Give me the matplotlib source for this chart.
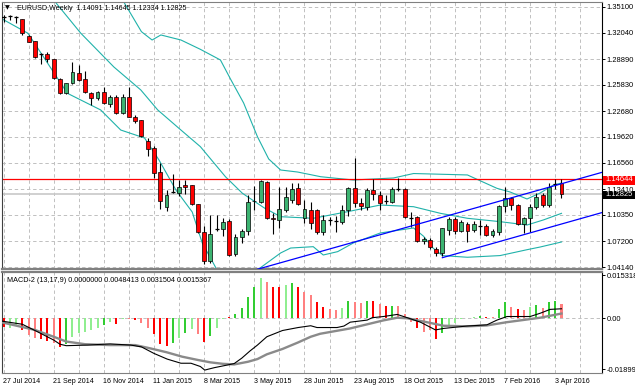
import matplotlib.pyplot as plt
from matplotlib.patches import Rectangle

plt.rcParams['font.family'] = ['Liberation Sans', 'DejaVu Sans']

# weekly EURUSD candles, 27 Jul 2014 .. 10 Apr 2016
opens = [1.3390, 1.3395, 1.3398, 1.3364, 1.3165, 1.3105, 1.2940, 1.2945, 1.2887, 1.2653,
         1.2490, 1.2602, 1.2728, 1.2653, 1.2482, 1.2427, 1.2498, 1.2360, 1.2442, 1.2252,
         1.2442, 1.2204, 1.2164, 1.1910, 1.1832, 1.1540, 1.1128, 1.1300, 1.1292, 1.1390,
         1.1387, 1.1164, 1.0825, 1.0485, 1.0868, 1.0870, 1.0962, 1.0570, 1.0771, 1.0840,
         1.1195, 1.1190, 1.1430, 1.0995, 1.0974, 1.1093, 1.1212, 1.1351, 1.0994, 1.1093,
         1.1093, 1.0831, 1.0964, 1.0968, 1.0954, 1.1093, 1.1351, 1.1173, 1.1132, 1.1331,
         1.1271, 1.1198, 1.1192, 1.1342, 1.1339, 1.0996, 1.1014, 1.0718, 1.0736, 1.0628,
         1.0577, 1.0855, 1.0982, 1.0847, 1.0927, 1.0855, 1.0900, 1.0902, 1.0800, 1.0835,
         1.1140, 1.1232, 1.1150, 1.0930, 1.0992, 1.1130, 1.1271, 1.1152, 1.1395, 1.14091]
highs = [1.3410, 1.3410, 1.3405, 1.3370, 1.3175, 1.3110, 1.2960, 1.2978, 1.2890, 1.2660,
         1.2610, 1.2859, 1.2819, 1.2751, 1.2494, 1.2510, 1.2554, 1.2460, 1.2460, 1.2474,
         1.2554, 1.2224, 1.2170, 1.1950, 1.1860, 1.1649, 1.1331, 1.1525, 1.1445, 1.1445,
         1.1395, 1.1170, 1.0902, 1.1033, 1.1033, 1.1003, 1.0990, 1.0803, 1.0862, 1.1270,
         1.1378, 1.1450, 1.1442, 1.1060, 1.1370, 1.1370, 1.1411, 1.1418, 1.1212, 1.1192,
         1.1100, 1.1033, 1.1013, 1.1021, 1.1152, 1.1370, 1.1708, 1.1232, 1.1351, 1.1458,
         1.1323, 1.1271, 1.1370, 1.1470, 1.1351, 1.1073, 1.1020, 1.0770, 1.0760, 1.0650,
         1.0880, 1.1013, 1.1013, 1.0974, 1.0954, 1.0960, 1.0974, 1.0930, 1.0870, 1.1152,
         1.1363, 1.1250, 1.1160, 1.1010, 1.1160, 1.1290, 1.1290, 1.1411, 1.1462, 1.14645]
lows = [1.3330, 1.3350, 1.3320, 1.3180, 1.3090, 1.2899, 1.2830, 1.2860, 1.2650, 1.2478,
        1.2475, 1.2590, 1.2625, 1.2482, 1.2339, 1.2399, 1.2355, 1.2325, 1.2236, 1.2240,
        1.2197, 1.2132, 1.1965, 1.1740, 1.1470, 1.1100, 1.1085, 1.1290, 1.1260, 1.1280,
        1.1152, 1.0823, 1.0450, 1.0460, 1.0840, 1.0780, 1.0550, 1.0545, 1.0700, 1.0800,
        1.1093, 1.1175, 1.0982, 1.0810, 1.0875, 1.1073, 1.1172, 1.1150, 1.0935, 1.0863,
        1.0807, 1.0795, 1.0914, 1.0834, 1.0926, 1.1021, 1.1132, 1.1093, 1.1093, 1.1212,
        1.1093, 1.1164, 1.1173, 1.1323, 1.1000, 1.0894, 1.0715, 1.0690, 1.0630, 1.0545,
        1.0545, 1.0795, 1.0807, 1.0834, 1.0715, 1.0830, 1.0795, 1.0780, 1.0775, 1.0800,
        1.1069, 1.1090, 1.0920, 1.0815, 1.0834, 1.1110, 1.1130, 1.1130, 1.1340, 1.12334]
closes = [1.3395, 1.3400, 1.3392, 1.3197, 1.3097, 1.2918, 1.2948, 1.2890, 1.2661, 1.2490,
          1.2602, 1.2740, 1.2641, 1.2502, 1.2423, 1.2498, 1.2363, 1.2439, 1.2252, 1.2435,
          1.2204, 1.2156, 1.1974, 1.1822, 1.1535, 1.1196, 1.1271, 1.1308, 1.1372, 1.1367,
          1.1170, 1.0832, 1.0485, 1.0807, 1.0872, 1.0950, 1.0557, 1.0771, 1.0838, 1.1188,
          1.1205, 1.1442, 1.0994, 1.0985, 1.1105, 1.1252, 1.1339, 1.1164, 1.1101, 1.0943,
          1.0835, 1.0974, 1.0968, 1.0962, 1.1093, 1.1351, 1.1173, 1.1140, 1.1331, 1.1283,
          1.1180, 1.1202, 1.1339, 1.1337, 1.1013, 1.0992, 1.0724, 1.0747, 1.0649, 1.0577,
          1.0875, 1.0982, 1.0847, 1.0954, 1.0847, 1.0927, 1.0906, 1.0795, 1.0840, 1.1140,
          1.1232, 1.1150, 1.0930, 1.0992, 1.1132, 1.1250, 1.1152, 1.1370, 1.1400, 1.12825]

date_labels = ["27 Jul 2014", "21 Sep 2014", "16 Nov 2014", "11 Jan 2015", "8 Mar 2015",
               "3 May 2015", "28 Jun 2015", "23 Aug 2015", "18 Oct 2015", "13 Dec 2015",
               "7 Feb 2016", "3 Apr 2016"]
price_ticks = [1.35100, 1.32040, 1.28890, 1.25830, 1.22680, 1.19620, 1.16560,
               1.13410, 1.10350, 1.07200, 1.04140]

# bollinger bands (upper / middle / lower), read at bar positions
ub_x = [17.5, 19, 22, 23.7, 25.1, 28.3, 31.4, 34.6, 36.2, 38.3, 40.5, 42.3, 44.2, 46.9,
        50.6, 55.8, 62.2, 65.4, 68.5, 74, 76, 78.7, 80.8, 83.5, 85.6, 87.7, 89]
ub_y = [1.372, 1.3593, 1.3216, 1.3117, 1.3177, 1.3117, 1.3006, 1.2879, 1.2653, 1.2367,
        1.1966, 1.1700, 1.1569, 1.1545, 1.1489, 1.1450, 1.1474, 1.1527, 1.1521, 1.1510,
        1.1442, 1.1351, 1.1307, 1.1224, 1.1295, 1.1390, 1.1414]
mb_x = [7, 8, 12.3, 17.6, 21.9, 24.6, 28.3, 31.4, 35.4, 38.1, 41.6, 44.2, 49.4, 54.9,
        60.1, 65.4, 69.7, 74, 79.2, 83.5, 86.1, 89]
mb_y = [1.368, 1.3593, 1.3200, 1.2796, 1.2522, 1.2284, 1.2045, 1.1847, 1.1489, 1.1292,
        1.1117, 1.1013, 1.0994, 1.1073, 1.1152, 1.1132, 1.1053, 1.0994, 1.0954, 1.0914,
        1.0974, 1.1053]
lb_x = [-0.4, 3.9, 10.2, 15.5, 18.7, 22.5, 24.8, 27.5, 30.1, 31.7, 33.8, 35.5, 38, 40.7,
        44.2, 45.8, 49.4, 51, 53.3, 55.8, 60.1, 65.4, 67, 68.5, 70, 74, 79.2, 83.5, 85.6, 89]
lb_y = [1.3375, 1.3197, 1.2482, 1.2284, 1.2045, 1.1950, 1.1688, 1.1331, 1.1069, 1.0700,
        1.0414, 1.020, 1.022, 1.0390, 1.0581, 1.0640, 1.0656, 1.0557, 1.0597, 1.0700,
        1.0819, 1.0879, 1.078, 1.064, 1.055, 1.053, 1.055, 1.062, 1.0652, 1.0712]

# trend channel (bar, price) anchors
trend1 = [(40.5, 1.0387), (95.5, 1.1542)]
trend2 = [(70, 1.0525), (95.5, 1.1063)]
resistance = 1.14644
bid = 1.12825

# MACD-2 histogram and colours (r red, s salmon, g green, l light green)
hist = [-0.0028, -0.0034, -0.0025, -0.0039, -0.0056, -0.0065, -0.0069, -0.0076, -0.0084, -0.0095,
        -0.0085, -0.0062, -0.0048, -0.0045, -0.0040, -0.0031, -0.0022, -0.0013, -0.0018, -0.0001,
        -0.0003, -0.0007, -0.0015, -0.0031, -0.0054, -0.0085, -0.0092, -0.0084, -0.0065, -0.0050,
        -0.0036, -0.0053, -0.0078, -0.0058, -0.0034, -0.0003, 0.0006, 0.0013, 0.0034, 0.0073,
        0.0106, 0.0137, 0.0123, 0.0106, 0.0106, 0.0112, 0.0118, 0.0106, 0.0090, 0.0078,
        0.0056, 0.0037, 0.0031, 0.0027, 0.0034, 0.0058, 0.0054, 0.0050, 0.0058, 0.0058,
        0.0047, 0.0041, 0.0041, 0.0041, 0.0013, -0.0011, -0.0034, -0.0045, -0.0039, -0.0069,
        -0.0050, -0.0028, -0.0017, -0.0002, 0.0002, 0.0003, 0.0009, 0.0006, 0.0006, 0.0030,
        0.0054, 0.0037, 0.0030, 0.0028, 0.0039, 0.0045, 0.0034, 0.0054, 0.0058, 0.0048]
hist_col = ("rllrssrrsr" "glllllglrl" "srssrrrglg" "lsrgllrggg" "glsrrlgrss"
            "rrsslgssgr" "srgsssrssr" "glllllgrsg" "gsrslgsggs")
macd_x = [-0.4, 3, 5.4, 8, 9, 10, 13.4, 17, 20.3, 22, 24, 26.1, 28.3, 29.9, 31.4, 32.1,
          33.6, 35.7, 36.8, 38, 39.3, 40.5, 42, 44.5, 47, 49, 50, 53.2, 54.3, 55.3, 58, 58.8,
          60.6, 62.8, 64.4, 66.5, 68.9, 70.2, 73.9, 77.1, 78.7, 80.3, 84, 85.6, 87.2, 89]
macd_y = [-0.0009, -0.0020, -0.0045, -0.0073, -0.0087, -0.0092, -0.0090, -0.0086, -0.0090,
          -0.0096, -0.0118, -0.0137, -0.0151, -0.0151, -0.0162, -0.0174, -0.0166, -0.0157,
          -0.0152, -0.0134, -0.0110, -0.0090, -0.0062, -0.0041, -0.0031, -0.0025, -0.0031,
          -0.0031, -0.0026, -0.0013, -0.0006, 0.0002, 0.0006, 0.0013, 0.0002, -0.0013,
          -0.0039, -0.0034, -0.0026, -0.0022, -0.0006, 0.0006, 0.0006, 0.0017, 0.0030, 0.0032]
sig_x = [-0.4, 5, 8, 10, 13, 17, 21, 23, 26, 28.5, 31, 33, 35, 36.8, 39, 40.5, 42, 44.5,
         47, 49, 50.5, 55.3, 60.6, 62.8, 64.4, 67.5, 70.2, 73.9, 77.1, 80.3, 82.8, 85.6, 89]
sig_y = [-0.0013, -0.0039, -0.0062, -0.0078, -0.0087, -0.0090, -0.0090, -0.0099, -0.0114,
         -0.0129, -0.0140, -0.0148, -0.0153, -0.0155, -0.0146, -0.0137, -0.0121, -0.0103,
         -0.0081, -0.0062, -0.0052, -0.0034, -0.0007, 0.0002, 0.0, -0.0013, -0.0025, -0.0027,
         -0.0024, -0.0013, -0.0006, 0.0002, 0.0016]

W, H = 635, 391
fig = plt.figure(figsize=(6.35, 3.91), dpi=100)
ax = fig.add_axes([2 / W, 1 - 269 / H, 600 / W, 267 / H])
ax2 = fig.add_axes([2 / W, 1 - 373 / H, 600 / W, 101 / H], sharex=ax)

n = len(closes)
xs = list(range(n))
grid_kw = dict(color='#c0c0c0', lw=0.7, ls=(0, (3.5, 2.8)), zorder=0)
for a in (ax, ax2):
    for g in range(0, 96, 4):
        a.axvline(g, **grid_kw)
for p in price_ticks:
    ax.axhline(p, **grid_kw)
ax2.axhline(0, **grid_kw)

# bands, levels, trend lines
band = '#20b2aa'
ax.plot(ub_x, ub_y, color=band, lw=0.8, zorder=2)
ax.plot(mb_x, mb_y, color=band, lw=0.8, zorder=2)
ax.plot(lb_x, lb_y, color=band, lw=0.8, zorder=2)
ax.axhline(bid, color='#c8c8c8', lw=1.2, zorder=1)
ax.axhline(resistance, color='red', lw=0.9, zorder=2)
for tl in (trend1, trend2):
    ax.plot([tl[0][0], tl[1][0]], [tl[0][1], tl[1][1]], color='#0000ff', lw=0.9, zorder=4)

# candles
ax.vlines(xs, lows, highs, color='black', lw=0.8, zorder=3)
for i in xs:
    o, c = opens[i], closes[i]
    if abs(c - o) < 0.0009:
        ax.hlines(c, i - 0.32, i + 0.32, color='black', lw=0.9, zorder=3)
        continue
    col = '#3cb371' if c > o else '#ff0000'
    ax.add_patch(Rectangle((i - 0.31, min(o, c)), 0.62, abs(c - o), facecolor=col,
                           edgecolor='black', lw=0.5, zorder=3))

ax.set_xlim(-0.24, 95.46)
ax.set_ylim(1.03902, 1.35695)
ax.yaxis.tick_right()
ax.set_yticks(price_ticks)
ax.set_yticklabels(['%.5f' % p for p in price_ticks])
ax.tick_params(axis='y', labelsize=5.4, length=2.5, width=0.7, pad=1)
ax.tick_params(axis='x', bottom=False, labelbottom=False)

# MACD panel
cmap = {'r': '#ff0000', 's': '#ff8080', 'g': '#32cd32', 'l': '#90ee90'}
ax2.bar(xs, hist, width=0.32, color=[cmap[k] for k in hist_col], zorder=2)
ax2.plot(sig_x, sig_y, color='#8a8a8a', lw=1.7, zorder=3)
ax2.plot(macd_x, macd_y, color='black', lw=0.8, zorder=4)
ax2.set_ylim(-0.01838, 0.01556)
ax2.yaxis.tick_right()
ax2.set_yticks([0.01455, 0.0, -0.01704])
ax2.set_yticklabels(['0.015318', '0.00', '-0.018997'])
ax2.tick_params(axis='y', labelsize=5.4, length=2.5, width=0.7, pad=1)
ax2.set_xticks([8 * k for k in range(len(date_labels))])
ax2.set_xticklabels([])
ax2.tick_params(axis='x', length=0)
for k, lab in enumerate(date_labels):
    ax2.text(8 * k - 0.1, -0.0214, lab, fontsize=5.1, ha='left', va='center', clip_on=False)

for a in (ax, ax2):
    for s in a.spines.values():
        s.set_linewidth(0.8)
    a.spines['left'].set_color('#404040')
    a.spines['right'].set_color('black')
ax.spines['bottom'].set_color('#808080')
ax.spines['bottom'].set_linewidth(1.6)
ax.spines['top'].set_color('#808080')
ax2.spines['top'].set_color('#808080')
ax2.spines['top'].set_linewidth(1.6)
ax2.spines['bottom'].set_color('#808080')

# header and indicator labels
fig.text(5 / W, 1 - 8 / H, '\u25bc', fontsize=4.5, family='DejaVu Sans', va='center')
fig.text(17 / W, 1 - 8 / H, 'EURUSD,Weekly  1.14091 1.14645 1.12334 1.12825',
         fontsize=5.1, va='center')
fig.text(7 / W, 1 - 280 / H, 'MACD-2 (13,17,9) 0.0000000 0.0048413 0.0031504 0.0015367',
         fontsize=5.2, va='center')

# price flags on the right axis
for val, y, col in ((resistance, 180, 'red'), (bid, 195, 'black')):
    fig.patches.append(Rectangle((603 / W, 1 - (y + 4.5) / H), 32 / W, 9 / H,
                                 facecolor=col, edgecolor='none', transform=fig.transFigure,
                                 figure=fig, zorder=5))
    fig.text(605 / W, 1 - y / H, '%.5f' % val, color='white', fontsize=5.4, va='center',
             zorder=6)

fig.savefig('out.png', dpi=100)
